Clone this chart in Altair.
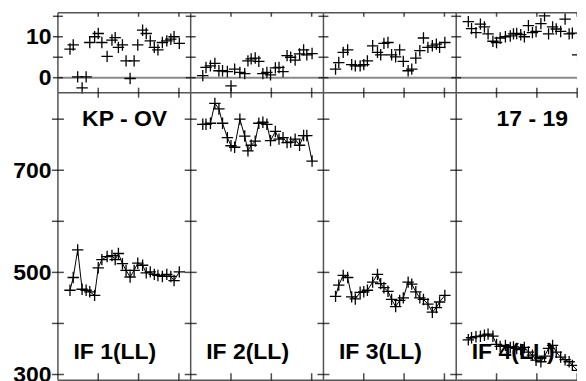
import altair as alt
import pandas as pd

# ---------------- data ----------------
TIMES = [0.30, 0.38, 0.49, 0.60, 0.70, 0.79, 0.91, 1.00, 1.09, 1.22, 1.34, 1.42, 1.50, 1.60,
         1.69, 1.79, 1.89, 1.98, 2.10, 2.19, 2.29, 2.39, 2.48, 2.59, 2.70, 2.80, 2.88, 3.01]

PHASE_IF1 = [7.0, 8.0, 0.2, -2.5, 0.2, 8.6, 10.0, 10.8, 8.6, 5.2, 9.2, 9.8, 7.4, 8.0,
             4.1, -0.2, 4.1, 8.0, 11.6, 10.8, 9.0, 7.4, 6.8, 8.6, 9.0, 9.4, 10.0, 8.4]
PHASE_IF2 = [0.5, 2.5, 2.9, 3.5, 1.7, 1.7, 1.5, -2.0, 2.1, 1.3, 1.0, 4.1, 4.6, 4.8,
             4.0, 1.0, 1.3, 0.7, 2.4, 2.5, 1.5, 5.4, 5.0, 4.3, 5.8, 6.8, 5.6, 5.9]
PHASE_IF3 = [2.1, 3.7, 6.2, 6.8, 3.2, 2.9, 2.9, 3.2, 4.1, 7.8, 6.2, 5.6, 8.4, 8.6,
             5.6, 5.1, 6.8, 4.0, 1.7, 2.1, 4.8, 6.6, 9.7, 7.4, 7.8, 8.2, 7.4, 8.6]
PHASE_IF4 = [13.7, 12.0, 11.0, 13.1, 12.4, 10.7, 8.9, 8.6, 9.7, 10.0, 10.2, 10.7, 10.8, 10.5,
             10.0, 12.7, 11.0, 11.3, 13.2, 15.1, 10.7, 12.4, 11.9, 11.3, 14.3, 10.7, 10.9, 5.6]

AMP_IF1 = [465, 490, 544, 467, 465, 462, 455, 509, 525, 531, 533, 525, 537, 517,
           504, 491, 504, 518, 514, 499, 501, 496, 494, 492, 496, 492, 484, 501]
AMP_IF2 = [790, 790, 792, 831, 820, 792, 764, 748, 745, 800, 767, 738, 749, 757,
           792, 794, 790, 758, 776, 761, 764, 754, 755, 761, 749, 768, 768, 718]
AMP_IF3 = [453, 475, 494, 490, 452, 448, 461, 462, 465, 481, 496, 478, 470, 463,
           447, 433, 445, 450, 481, 477, 462, 450, 447, 438, 422, 431, 442, 455]
AMP_IF4 = [368, 372, 374, 375, 377, 379, 375, 359, 355, 357, 353, 354, 351, 349,
           353, 344, 338, 328, 325, 336, 351, 357, 344, 334, 329, 325, 318, 308]

IF_LABELS = ["IF 1(LL)", "IF 2(LL)", "IF 3(LL)", "IF 4(LL)"]
BASELINE_LABEL = "KP - OV"
RANGE_LABEL = "17 - 19"

PHASE_TICKS = [0, 5, 10, 15]
PHASE_LABELS = [0, 10]
AMP_TICKS = [300, 400, 500, 600, 700, 800]
AMP_LABELS = [300, 500, 700]
TIME_TICKS = [1, 2, 3]

# ---------------- layout / style ----------------
PX_PER_HOUR = 40.4
PANEL_W = [133, 133, 133, 121]
PHASE_H = 80
AMP_H = 288
PHASE_DOMAIN = [-3.66, 15.85]
AMP_DOMAIN = [288.9, 851.9]
FONT = "Liberation Sans"
FS = 23
CROSS = "M-1,0H1M0,-1V1"
FRAME = "#555555"

# label anchor positions (data coordinates inside a panel)
IF_LABEL_POS = (0.385, 329.5)
BASELINE_POS = (0.60, 787.5)
RANGE_POS = (1.00, 787.5)

PHASES = [PHASE_IF1, PHASE_IF2, PHASE_IF3, PHASE_IF4]
AMPS = [AMP_IF1, AMP_IF2, AMP_IF3, AMP_IF4]


def yaxis(show, values):
    if not show:
        return None
    return alt.Axis(values=values, ticks=False, domain=False, grid=False,
                    labelFont=FONT, labelFontSize=FS, labelFontWeight="bold",
                    labelColor="black", labelPadding=7, title=None, minExtent=0,
                    labelOverlap=False)


def panel(i, kind):
    w = PANEL_W[i]
    last = i == 3
    xs = alt.Scale(domain=[0, w / PX_PER_HOUR], nice=False, zero=False)
    if kind == "phase":
        dom, h, ticks, labs, vals = PHASE_DOMAIN, PHASE_H, PHASE_TICKS, PHASE_LABELS, PHASES[i]
    else:
        dom, h, ticks, labs, vals = AMP_DOMAIN, AMP_H, AMP_TICKS, AMP_LABELS, AMPS[i]
    ys = alt.Scale(domain=dom, nice=False, zero=False)
    ax = yaxis(i == 0, labs)

    def X(f="t"):
        return alt.X(f"{f}:Q", scale=xs, axis=None)

    def Y(f="v"):
        return alt.Y(f"{f}:Q", scale=ys, axis=ax)

    df = pd.DataFrame({"t": TIMES, "v": vals})
    layers = []
    # frame: left edge and top edge (and bottom edge of the amplitude row)
    layers.append(alt.Chart(pd.DataFrame({"t": [0]})).mark_rule(
        color=FRAME, strokeWidth=1.5).encode(x=X()))
    hlines = [dom[1]] + ([dom[0]] if kind == "amp" else [])
    layers.append(alt.Chart(pd.DataFrame({"v": hlines})).mark_rule(
        color=FRAME, strokeWidth=1.5).encode(y=Y()))
    if kind == "phase":
        layers.append(alt.Chart(pd.DataFrame({"v": [0]})).mark_rule(
            color="#8a8a8a", strokeWidth=2).encode(y=Y()))
    else:
        layers.append(alt.Chart(df).mark_line(
            color="black", strokeWidth=1, clip=last).encode(x=X(), y=Y()))
    layers.append(alt.Chart(df).mark_point(
        shape=CROSS, filled=False, size=130, strokeWidth=1.3, color="black", opacity=1,
        clip=last
    ).encode(x=X(), y=Y()))
    # y ticks crossing the left frame
    layers.append(alt.Chart(pd.DataFrame({"v": ticks})).mark_tick(
        orient="horizontal", size=10 if kind == "phase" else 12, thickness=1.5, color="black"
    ).encode(x=alt.value(0), y=Y()))
    # x ticks on top edge
    top = pd.DataFrame({"t": TIME_TICKS, "v": [dom[1]] * len(TIME_TICKS)})
    if kind == "phase":
        layers.append(alt.Chart(top).mark_tick(
            orient="vertical", size=8, thickness=1.5, color="black", clip=True
        ).encode(x=X(), y=Y()))
    else:
        layers.append(alt.Chart(top).mark_tick(
            orient="vertical", size=10, thickness=1.5, color="black"
        ).encode(x=X(), y=Y()))
        bot = pd.DataFrame({"t": TIME_TICKS, "v": [dom[0]] * len(TIME_TICKS)})
        layers.append(alt.Chart(bot).mark_tick(
            orient="vertical", size=14, thickness=1.5, color="black", clip=True
        ).encode(x=X(), y=Y()))
        texts = [(IF_LABEL_POS[0], IF_LABEL_POS[1], IF_LABELS[i])]
        if i == 0:
            texts.append((BASELINE_POS[0], BASELINE_POS[1], BASELINE_LABEL))
        if i == 3:
            texts.append((RANGE_POS[0], RANGE_POS[1], RANGE_LABEL))
        tdf = pd.DataFrame(texts, columns=["t", "v", "label"])
        layers.append(alt.Chart(tdf).mark_text(
            align="left", baseline="alphabetic", font=FONT, fontSize=FS,
            fontWeight="bold", color="black"
        ).encode(x=X(), y=Y(), text="label:N"))
    return alt.layer(*layers).properties(width=w, height=h)


panels = [panel(i, "phase") for i in range(4)] + [panel(i, "amp") for i in range(4)]

chart = alt.concat(*panels, columns=4, spacing=0, bounds="flush").properties(
    padding={"left": 4, "top": 3.5, "right": 0, "bottom": 0},
    background="white",
).configure_view(strokeWidth=0)

chart.save("out.html", embed_options={"renderer": "svg", "actions": False})
